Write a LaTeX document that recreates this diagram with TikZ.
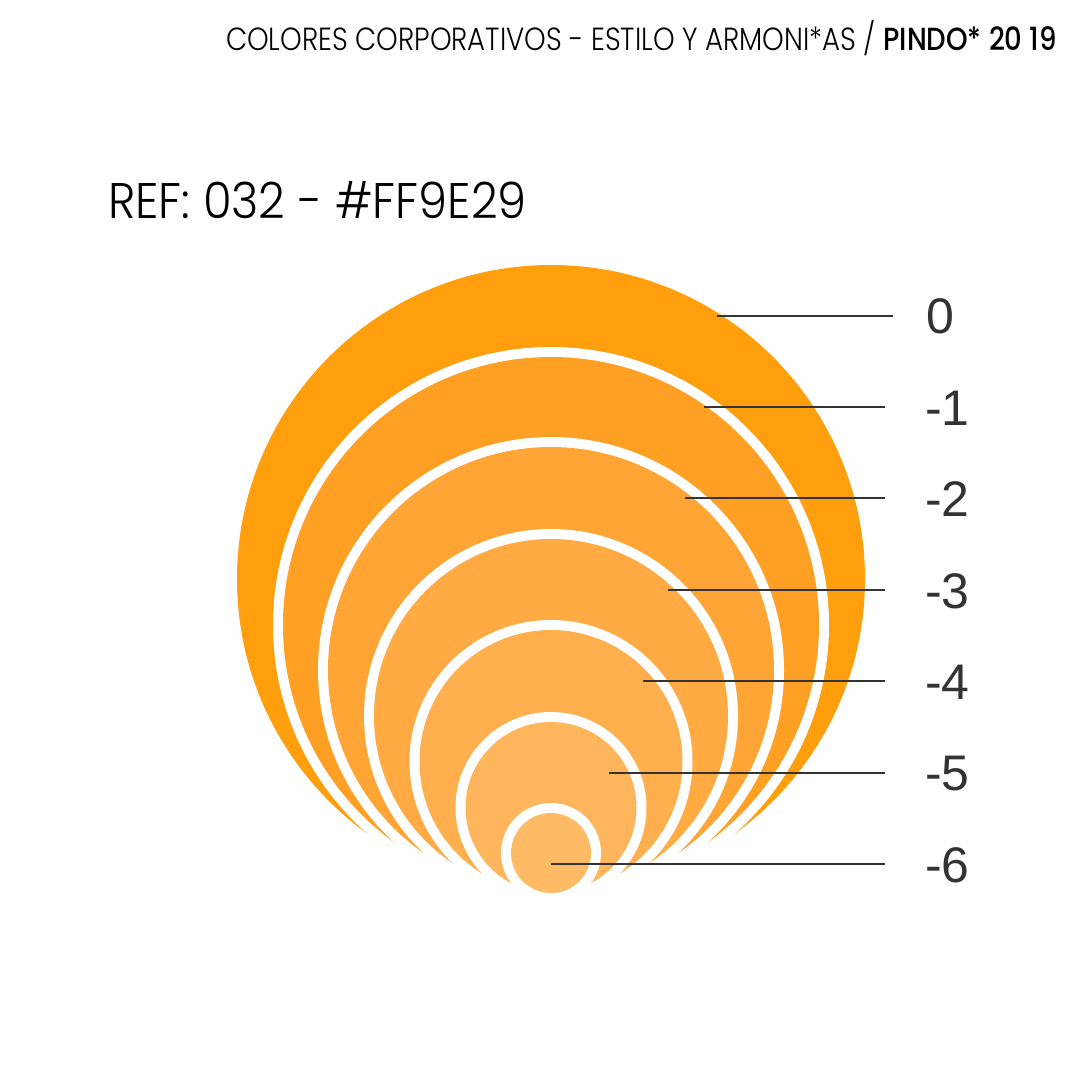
\documentclass[tikz,border=0pt]{standalone}
\usepackage{fontspec}
\setmainfont{Liberation Sans}
\newfontfamily\thinf{Poppins Light}
\newfontfamily\boldf{Poppins Medium}
\definecolor{c0}{HTML}{FF9F0E}
\definecolor{c1}{HTML}{FFA024}
\definecolor{c2}{HTML}{FFA535}
\definecolor{c3}{HTML}{FFAA42}
\definecolor{c4}{HTML}{FFAF4E}
\definecolor{c5}{HTML}{FFB55C}
\definecolor{c6}{HTML}{FFBA66}
\definecolor{ink}{HTML}{333333}
\begin{document}
\begin{tikzpicture}[x=1pt,y=-1pt,
  lbl/.style={anchor=west,inner sep=0pt,font=\fontsize{50}{50}\selectfont,text=ink},
  leader/.style={draw=ink,line width=1.8pt}]
\useasboundingbox[fill=white] (0,0) rectangle (1080,1080);
% circles tangent at bottom y=893
\fill[c0] (551,579) circle (314);
\foreach \r/\c in {268/c1,223/c2,177/c3,131.5/c4,85.5/c5,40/c6}{
  \fill[white] (551,893-\r) circle (\r+10);
  \fill[\c] (551,893-\r) circle (\r);
}
% title
\node[anchor=base east,inner sep=0pt,font=\fontsize{32}{32}\selectfont,text=black] (title) at (1057,50)
  {\scalebox{0.86}[1]{{\thinf COLORES CORPORATIVOS - ESTILO Y ARMONI*AS / }{\boldf PINDO* 20 19}}};
\node[anchor=base west,inner sep=0pt,font=\thinf\fontsize{50}{50}\selectfont,text=black] (ref) at (108,218) {\scalebox{0.93}[1]{REF: 032 - \#FF9E29}};
% labels
\node[lbl] (l0) at (926,316) {0};
\node[lbl] (l1) at (925,408) {-1};
\node[lbl] (l2) at (925,499) {-2};
\node[lbl] (l3) at (925,591) {-3};
\node[lbl] (l4) at (925,682) {-4};
\node[lbl] (l5) at (925,774) {-5};
\node[lbl] (l6) at (925,865) {-6};
\coordinate (s0) at (717,316); \coordinate (e0) at (893,316);
\coordinate (s1) at (704,407); \coordinate (e1) at (885,407);
\coordinate (s2) at (685,498); \coordinate (e2) at (885,498);
\coordinate (s3) at (668,590); \coordinate (e3) at (885,590);
\coordinate (s4) at (643,681); \coordinate (e4) at (885,681);
\coordinate (s5) at (609,773); \coordinate (e5) at (885,773);
\coordinate (s6) at (551,864); \coordinate (e6) at (885,864);
\foreach \i in {0,...,6}{ \draw[leader] (s\i) -- (e\i); }
\end{tikzpicture}
\end{document}
